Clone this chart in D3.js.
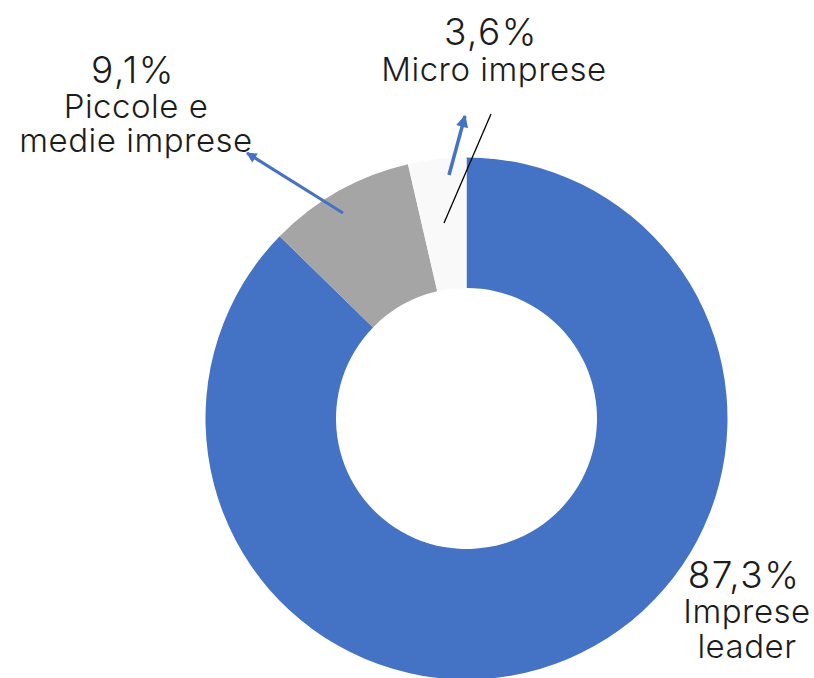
<!DOCTYPE html>
<html><head><meta charset="utf-8">
<script src="https://cdn.jsdelivr.net/npm/d3@7/dist/d3.min.js"></script>
<style>
html,body{margin:0;padding:0;background:#fff;}
svg text{font-family:Inter,"Noto Sans",sans-serif;fill:#1c1c1c;}
</style></head>
<body>
<svg id="chart" width="814" height="678"></svg>
<script>
const categories = ["Imprese leader", "Piccole e medie imprese", "Micro imprese"];
const values = [87.3, 9.1, 3.6];
const valueLabels = ["87,3%", "9,1%", "3,6%"];
const labelLines = [["Imprese", "leader"], ["Piccole e", "medie imprese"], ["Micro imprese"]];
const colors = ["#4472C4", "#A5A5A5", "#F9F9F9"];

const svg = d3.select("#chart");
const cx = 466.5, cy = 418.5, R = 261, r = 130.5;

const pie = d3.pie().sort(null).value(d => d)(values);
const arc = d3.arc().innerRadius(r).outerRadius(R);
const g = svg.append("g").attr("transform", `translate(${cx},${cy})`);
g.selectAll("path").data(pie).join("path")
  .attr("d", arc).attr("fill", (d, i) => colors[i]);

// arrow marker
const defs = svg.append("defs");
defs.append("marker").attr("id", "ah").attr("viewBox", "0 0 10 10")
  .attr("refX", 9).attr("refY", 5).attr("markerWidth", 4).attr("markerHeight", 3.5)
  .attr("orient", "auto").attr("markerUnits", "strokeWidth")
  .append("path").attr("d", "M0,0 L10,5 L0,10 z").attr("fill", "#4472C4");

// leader arrows
svg.append("line").attr("x1", 343).attr("y1", 213).attr("x2", 247).attr("y2", 153)
  .attr("stroke", "#4472C4").attr("stroke-width", 3).attr("marker-end", "url(#ah)");
svg.append("line").attr("x1", 449).attr("y1", 175).attr("x2", 465).attr("y2", 116)
  .attr("stroke", "#4472C4").attr("stroke-width", 3.5).attr("marker-end", "url(#ah)");
svg.append("line").attr("x1", 444).attr("y1", 223).attr("x2", 491).attr("y2", 114)
  .attr("stroke", "#000").attr("stroke-width", 1.3);

// labels (one text element per slice, lines as tspans)
const labelPos = [
  {x: 744, y: 588, lines: [623, 658]},
  {x: 133, y: 83, lines: [118, 152]},
  {x: 491, y: 45, lines: [81]}
];
labelPos.forEach((p, i) => {
  const t = svg.append("text").attr("text-anchor", "middle").attr("font-weight", 300);
  t.append("tspan").attr("x", p.x).attr("y", p.y)
    .attr("font-size", 37).attr("letter-spacing", 1.5).text(valueLabels[i]);
  labelLines[i].forEach((s, j) => {
    t.append("tspan").attr("x", p.x + 3).attr("y", p.lines[j])
      .attr("font-size", 33).attr("letter-spacing", 0.5).text(s);
  });
});
</script>
</body></html>
